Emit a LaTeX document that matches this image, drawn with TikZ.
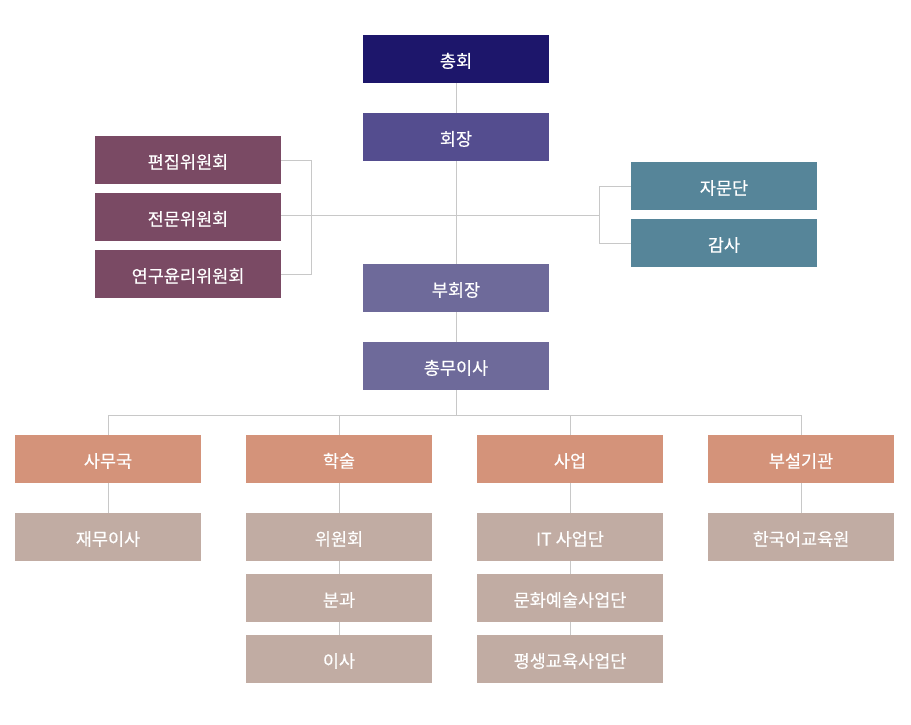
\documentclass[tikz,border=0pt]{standalone}
\usepackage{fontspec}
\setmainfont{Noto Sans CJK KR}
\newfontfamily\boxfont{Noto Sans CJK KR}[FakeBold=0.35]
\definecolor{cTop}{HTML}{1D166B}
\definecolor{cPres}{HTML}{544D8F}
\definecolor{cVice}{HTML}{6E6A9A}
\definecolor{cLeft}{HTML}{7A4A64}
\definecolor{cRight}{HTML}{568599}
\definecolor{cOrg}{HTML}{D4937A}
\definecolor{cSub}{HTML}{C1ACA3}
\definecolor{cLine}{HTML}{C8C8C8}
\tikzset{
  box/.style={minimum width=186pt, minimum height=48pt, inner sep=0pt, text=white,
    text height=17pt, text depth=0pt,
    font=\boxfont\fontsize{17.5}{20}\selectfont},
  topbox/.style={box, fill=cTop},
  presbox/.style={box, fill=cPres},
  vicebox/.style={box, fill=cVice},
  leftbox/.style={box, fill=cLeft},
  rightbox/.style={box, fill=cRight},
  orgbox/.style={box, fill=cOrg},
  subbox/.style={box, fill=cSub},
  conn/.style={draw=cLine, line width=1pt}
}
\begin{document}
\begin{tikzpicture}[x=1pt,y=-1pt]
\useasboundingbox (0,0) rectangle (911,724);
% center column
\node[topbox] (zh) at (456,59) {총회};
\node[presbox] (hj) at (456,137) {회장};
\node[vicebox] (bh) at (456,288) {부회장};
\node[vicebox] (cm) at (456,366) {총무이사};
% left
\node[leftbox] (pj) at (188,160) {편집위원회};
\node[leftbox] (jm) at (188,217) {전문위원회};
\node[leftbox] (yg) at (188,274) {연구윤리위원회};
% right
\node[rightbox] (jmd) at (724,186) {자문단};
\node[rightbox] (gs) at (724,243) {감사};
% bottom
\node[orgbox] (sm) at (108,459) {사무국};
\node[orgbox] (hs) at (339,459) {학술};
\node[orgbox] (su) at (570,459) {사업};
\node[orgbox] (bs) at (801,459) {부설기관};
\node[subbox] (jw) at (108,537) {재무이사};
\node[subbox] (wh) at (339,537) {위원회};
\node[subbox] (bg) at (339,598) {분과};
\node[subbox] (is) at (339,659) {이사};
\node[subbox] (it) at (570,537) {IT 사업단};
\node[subbox] (mh) at (570,598) {문화예술사업단};
\node[subbox] (ps) at (570,659) {평생교육사업단};
\node[subbox] (hk) at (801,537) {한국어교육원};
% coordinates
\coordinate (rb) at (600,215);
\coordinate (jn) at (456,415);
\coordinate (jl) at (108,415);
\coordinate (jr) at (801,415);
% connectors
\draw[conn] (zh.south) -- (hj.north);
\draw[conn] (hj.south) -- (bh.north);
\draw[conn] (bh.south) -- (cm.north);
\draw[conn] (pj.east) -- ++(30,0) |- (yg.east);
\draw[conn] (jm.east |- rb) -- (rb);
\draw[conn] (jmd.west) -- ++(-31,0) |- (gs.west);
\draw[conn] (cm.south) -- (jn);
\draw[conn] (jl) -- (jr);
\draw[conn] (jl) -- (sm.north);
\draw[conn] (hs.north |- jn) -- (hs.north);
\draw[conn] (su.north |- jn) -- (su.north);
\draw[conn] (jr) -- (bs.north);
\draw[conn] (sm.south) -- (jw.north);
\draw[conn] (hs.south) -- (wh.north);
\draw[conn] (wh.south) -- (bg.north);
\draw[conn] (bg.south) -- (is.north);
\draw[conn] (su.south) -- (it.north);
\draw[conn] (it.south) -- (mh.north);
\draw[conn] (mh.south) -- (ps.north);
\draw[conn] (bs.south) -- (hk.north);
\end{tikzpicture}
\end{document}
